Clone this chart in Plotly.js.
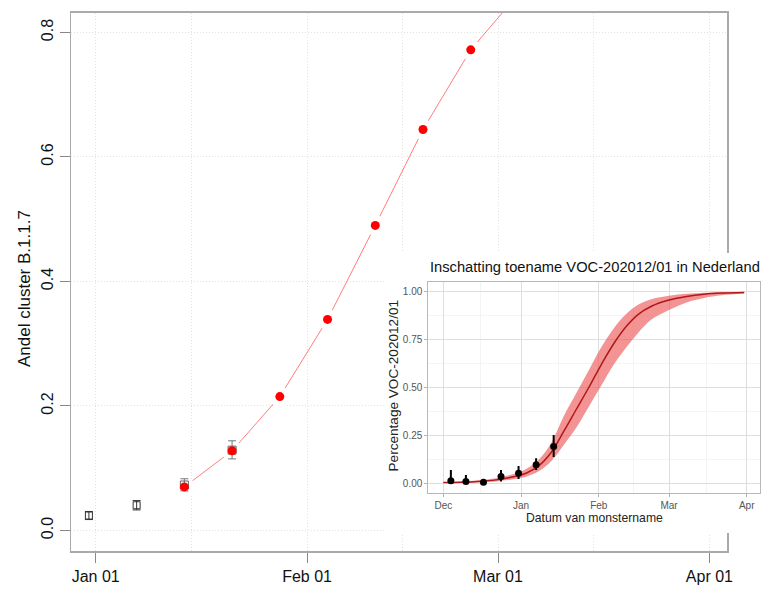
<!DOCTYPE html>
<html>
<head>
<meta charset="utf-8">
<script src="https://cdn.plot.ly/plotly-3.0.1.min.js"></script>
<style>html,body{margin:0;padding:0;background:#fff}#chart{width:762px;height:589px}</style>
</head>
<body>
<div id="chart"></div>
<script>
// ---------- main chart data ----------
const redDates = ['2021-01-14','2021-01-21','2021-01-28','2021-02-04','2021-02-11','2021-02-18','2021-02-25'];
const redVals  = [0.070, 0.128, 0.215, 0.339, 0.490, 0.644, 0.772];
const lineExtDate = '2021-03-04';
const lineExtVal  = 0.862;

const sqDarkDates = ['2020-12-31','2021-01-07'];
const sqDarkVals  = [0.024, 0.0405];
const sqDarkLo    = [0.0175, 0.033];
const sqDarkHi    = [0.0305, 0.048];

const sqGreyDates = ['2021-01-14','2021-01-21'];
const sqGreyVals  = [0.073, 0.129];
const sqGreyLo    = [0.0635, 0.115];
const sqGreyHi    = [0.083, 0.144];

const mainXTicks = ['2021-01-01','2021-02-01','2021-03-01','2021-04-01'];
const mainXMinor = ['2021-01-15','2021-02-15','2021-03-15'];
const mainYTicks = [0, 0.2, 0.4, 0.6, 0.8];

// ---------- inset data ----------
const insetDates = ['2020-12-01','2020-12-08','2020-12-15','2020-12-22','2020-12-29','2021-01-03','2021-01-08',
  '2021-01-13','2021-01-18','2021-01-23','2021-01-28','2021-02-02','2021-02-07','2021-02-12','2021-02-17',
  '2021-02-22','2021-03-01','2021-03-08','2021-03-15','2021-03-22','2021-03-31'];
const insetMid = [0.003,0.005,0.009,0.017,0.033,0.052,0.090,0.160,0.27,0.385,0.50,0.62,0.73,0.82,0.885,0.925,0.957,0.976,0.988,0.994,0.997];
const insetLo  = [0.001,0.002,0.004,0.009,0.020,0.034,0.062,0.115,0.20,0.29,0.40,0.51,0.62,0.71,0.79,0.855,0.905,0.945,0.968,0.982,0.991];
const insetHi  = [0.006,0.009,0.015,0.026,0.048,0.074,0.122,0.210,0.35,0.47,0.59,0.71,0.81,0.885,0.935,0.962,0.980,0.990,0.995,0.998,0.999];

const ptDates = ['2020-12-04','2020-12-10','2020-12-17','2020-12-24','2020-12-31','2021-01-07','2021-01-14'];
const ptVals  = [0.012, 0.008, 0.005, 0.035, 0.052, 0.096, 0.191];
const ptLo    = [0.000, 0.000, 0.000, 0.008, 0.021, 0.069, 0.136];
const ptHi    = [0.069, 0.043, 0.020, 0.069, 0.090, 0.130, 0.252];

const insetXTicks = ['2020-12-01','2021-01-01','2021-02-01','2021-03-01','2021-04-01'];
const insetXMinor = ['2020-12-16','2021-01-16','2021-02-15','2021-03-16'];
const insetYTicks = [0, 0.25, 0.5, 0.75, 1];
const insetYMinor = [0.125, 0.375, 0.625, 0.875];

// ---------- geometry helpers (pixel -> paper) ----------
const W = 762, H = 589;
const px = v => v / W;
const py = v => (H - v) / H;
const FONT = 'Liberation Sans, Arial, Helvetica, sans-serif';
const GRIDDASH = '1px,2px';

const traces = [
  // main red line
  {x: redDates.concat([lineExtDate]), y: redVals.concat([lineExtVal]), type: 'scatter', mode: 'lines',
   line: {color: 'rgba(255,70,70,0.7)', width: 1}, xaxis: 'x', yaxis: 'y', hoverinfo: 'skip'},
  // white halos to create the gaps of an R type="b" line
  {x: redDates, y: redVals, type: 'scatter', mode: 'markers',
   marker: {color: '#ffffff', size: 21, line: {width: 0}}, xaxis: 'x', yaxis: 'y', hoverinfo: 'skip'},
  // dark open squares with error bars
  {x: sqDarkDates, y: sqDarkVals, type: 'scatter', mode: 'markers',
   marker: {symbol: 'square-open', color: '#333', size: 7, line: {width: 1}},
   error_y: {type: 'data', symmetric: false,
     array: sqDarkHi.map((h, i) => h - sqDarkVals[i]), arrayminus: sqDarkLo.map((l, i) => sqDarkVals[i] - l),
     color: '#333', thickness: 1, width: 4},
   xaxis: 'x', yaxis: 'y'},
  // grey open squares with error bars
  {x: sqGreyDates, y: sqGreyVals, type: 'scatter', mode: 'markers',
   marker: {symbol: 'square-open', color: '#666', size: 8, line: {width: 1}},
   error_y: {type: 'data', symmetric: false,
     array: sqGreyHi.map((h, i) => h - sqGreyVals[i]), arrayminus: sqGreyLo.map((l, i) => sqGreyVals[i] - l),
     color: '#777', thickness: 1, width: 4},
   xaxis: 'x', yaxis: 'y'},
  // red points
  {x: redDates, y: redVals, type: 'scatter', mode: 'markers',
   marker: {color: '#ff0000', size: 9}, xaxis: 'x', yaxis: 'y'},
  // empty trace to create the cover subplot
  {x: [], y: [], type: 'scatter', mode: 'markers', xaxis: 'x2', yaxis: 'y2', hoverinfo: 'skip'},
  // inset ribbon
  {x: insetDates, y: insetLo, type: 'scatter', mode: 'lines', line: {width: 0, color: 'rgba(0,0,0,0)', shape: 'spline'},
   xaxis: 'x3', yaxis: 'y3', hoverinfo: 'skip'},
  {x: insetDates, y: insetHi, type: 'scatter', mode: 'lines', line: {width: 0, color: 'rgba(0,0,0,0)', shape: 'spline'},
   fill: 'tonexty', fillcolor: 'rgba(236,80,80,0.62)', xaxis: 'x3', yaxis: 'y3', hoverinfo: 'skip'},
  {x: insetDates, y: insetMid, type: 'scatter', mode: 'lines', line: {color: '#b01818', width: 1.5, shape: 'spline'},
   xaxis: 'x3', yaxis: 'y3'},
  // inset points
  {x: ptDates, y: ptVals, type: 'scatter', mode: 'markers',
   marker: {color: '#000', size: 7},
   error_y: {type: 'data', symmetric: false,
     array: ptHi.map((h, i) => h - ptVals[i]), arrayminus: ptLo.map((l, i) => ptVals[i] - l),
     color: '#000', thickness: 2, width: 0},
   xaxis: 'x3', yaxis: 'y3'}
];

const layout = {
  width: W, height: H,
  margin: {l: 0, r: 0, t: 0, b: 0, pad: 0},
  paper_bgcolor: '#fff', plot_bgcolor: '#fff',
  showlegend: false,
  font: {family: FONT, color: '#000'},
  xaxis: {
    domain: [px(71), px(727)], anchor: 'y', type: 'date',
    range: ['2020-12-28 09:00', '2021-04-03 14:00'],
    tickmode: 'array', tickvals: mainXTicks, tickformat: '%b %d',
    ticks: 'outside', ticklen: 10, tickwidth: 1, tickcolor: '#888',
    tickfont: {size: 16, color: '#111', family: FONT},
    showline: true, mirror: true, linecolor: '#aaaaaa', linewidth: 1.5,
    showgrid: true, gridcolor: '#e2e2e2', griddash: GRIDDASH, gridwidth: 1,
    minor: {tickmode: 'array', tickvals: mainXMinor, ticks: '', showgrid: true, gridcolor: '#e2e2e2', griddash: GRIDDASH, gridwidth: 1},
    zeroline: false, fixedrange: true
  },
  yaxis: {
    domain: [py(551), py(12.5)], anchor: 'x',
    range: [-0.033, 0.832],
    tickmode: 'array', tickvals: mainYTicks, tickformat: '.1f', tickangle: -90,
    ticks: 'outside', ticklen: 10, tickwidth: 1, tickcolor: '#888',
    tickfont: {size: 16, color: '#111', family: FONT},
    showline: true, mirror: true, linecolor: '#aaaaaa', linewidth: 1.5,
    showgrid: true, gridcolor: '#e2e2e2', griddash: GRIDDASH, gridwidth: 1,
    zeroline: false, fixedrange: true
  },
  xaxis2: {domain: [px(385), 1], anchor: 'y2', range: [0, 1], visible: false, fixedrange: true},
  yaxis2: {domain: [py(533), py(253)], anchor: 'x2', range: [0, 1], visible: false, fixedrange: true},
  xaxis3: {
    domain: [px(428.3), px(760)], anchor: 'y3', type: 'date',
    range: ['2020-11-25 00:00', '2021-04-06 07:00'],
    tickmode: 'array', tickvals: insetXTicks, tickformat: '%b',
    ticks: 'outside', ticklen: 3, tickwidth: 1, tickcolor: '#b3b3b3',
    tickfont: {size: 10, color: '#555', family: FONT},
    showline: true, mirror: true, linecolor: '#b8b8b8', linewidth: 1,
    showgrid: true, gridcolor: '#dedede', gridwidth: 1,
    minor: {tickmode: 'array', tickvals: insetXMinor, ticks: '', showgrid: true, gridcolor: '#ececec', gridwidth: 0.6},
    zeroline: false, fixedrange: true
  },
  yaxis3: {
    domain: [py(492.7), py(282.3)], anchor: 'x3',
    range: [-0.05, 1.05],
    tickmode: 'array', tickvals: insetYTicks, tickformat: '.2f',
    ticks: 'outside', ticklen: 3, tickwidth: 1, tickcolor: '#b3b3b3',
    tickfont: {size: 10, color: '#555', family: FONT},
    showline: true, mirror: true, linecolor: '#b8b8b8', linewidth: 1,
    showgrid: true, gridcolor: '#dedede', gridwidth: 1,
    minor: {tickmode: 'array', tickvals: insetYMinor, ticks: '', showgrid: true, gridcolor: '#ececec', gridwidth: 0.6},
    zeroline: false, fixedrange: true
  },
  shapes: [
    {type: 'rect', xref: 'x2', yref: 'y2', x0: 0, x1: 1, y0: 0, y1: 1,
     fillcolor: '#ffffff', line: {width: 0}, layer: 'below'}
  ],
  annotations: [
    {text: 'Andel cluster B.1.1.7', xref: 'paper', yref: 'paper', x: px(24), y: py(289),
     xanchor: 'center', yanchor: 'middle', textangle: -90, showarrow: false,
     font: {size: 17, color: '#111', family: FONT}},
    {text: 'Inschatting toename VOC-202012/01 in Nederland', xref: 'paper', yref: 'paper', x: px(428), y: py(266.7),
     xanchor: 'left', yanchor: 'middle', showarrow: false,
     font: {size: 14.7, color: '#111', family: FONT}},
    {text: 'Datum van monstername', xref: 'paper', yref: 'paper', x: px(594), y: py(518),
     xanchor: 'center', yanchor: 'middle', showarrow: false,
     font: {size: 12.2, color: '#222', family: FONT}},
    {text: 'Percentage VOC-202012/01', xref: 'paper', yref: 'paper', x: px(392.5), y: py(386),
     xanchor: 'center', yanchor: 'middle', textangle: -90, showarrow: false,
     font: {size: 13.6, color: '#222', family: FONT}}
  ]
};

Plotly.newPlot('chart', traces, layout, {displayModeBar: false, staticPlot: true});
</script>
</body>
</html>
